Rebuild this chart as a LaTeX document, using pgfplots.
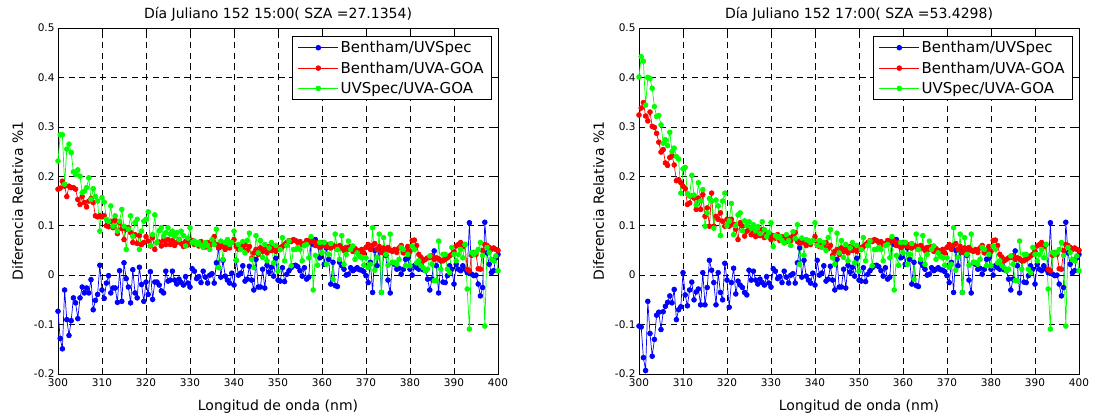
\documentclass[border=0pt]{standalone}
\usepackage{fontspec}
\setmainfont{DejaVu Sans}
\usepackage{pgfplots}
\usepackage{pgfplotstable}
\pgfplotsset{compat=1.18}

\pgfplotstableread{
x b r g
300.0 -0.073 0.174 0.231
300.5 -0.128 0.176 0.284
301.0 -0.149 0.190 0.284
301.5 -0.030 0.180 0.184
302.0 -0.090 0.159 0.255
302.5 -0.122 0.180 0.265
303.0 -0.092 0.177 0.248
303.5 -0.046 0.177 0.209
304.0 -0.056 0.174 0.204
304.5 -0.088 0.153 0.213
305.0 -0.046 0.143 0.200
305.5 -0.024 0.159 0.167
306.0 -0.036 0.147 0.170
306.5 -0.026 0.138 0.177
307.0 -0.036 0.150 0.197
307.5 -0.009 0.155 0.153
308.0 -0.070 0.147 0.175
308.5 -0.051 0.120 0.159
309.0 -0.039 0.118 0.150
309.5 0.020 0.120 0.089
310.0 -0.030 0.118 0.157
310.5 -0.047 0.120 0.148
311.0 -0.016 0.100 0.113
311.5 -0.001 0.098 0.109
312.0 -0.036 0.109 0.140
312.5 -0.026 0.096 0.099
313.0 -0.026 0.111 0.120
313.5 -0.055 0.084 0.089
314.0 0.009 0.106 0.109
314.5 -0.053 0.094 0.133
315.0 0.025 0.072 0.099
315.5 -0.007 0.093 0.052
316.0 -0.024 0.096 0.093
316.5 -0.056 0.086 0.120
317.0 0.011 0.066 0.079
317.5 -0.036 0.082 0.106
318.0 -0.046 0.064 0.113
318.5 0.016 0.080 0.052
319.0 -0.019 0.062 0.089
319.5 -0.053 0.066 0.109
320.0 -0.014 0.078 0.113
320.5 -0.039 0.069 0.128
321.0 0.007 0.059 0.060
321.5 -0.049 0.076 0.082
322.0 -0.014 0.052 0.122
322.5 -0.014 0.066 0.066
323.0 -0.020 0.067 0.090
323.5 -0.032 0.059 0.096
324.0 -0.036 0.071 0.079
324.5 0.008 0.062 0.086
325.0 -0.012 0.072 0.096
325.5 -0.010 0.062 0.083
326.0 0.008 0.070 0.089
326.5 -0.010 0.060 0.079
327.0 -0.018 0.066 0.086
327.5 -0.008 0.072 0.072
328.0 -0.015 0.064 0.089
328.5 -0.020 0.058 0.080
329.0 -0.003 0.068 0.059
329.5 -0.016 0.061 0.075
330.0 -0.024 0.066 0.096
330.5 0.013 0.070 0.066
331.0 0.008 0.062 0.069
331.5 -0.007 0.065 0.062
332.0 -0.003 0.059 0.066
332.5 -0.015 0.068 0.060
333.0 0.008 0.063 0.056
333.5 -0.004 0.057 0.066
334.0 -0.016 0.066 0.060
334.5 0.000 0.060 0.052
335.0 0.003 0.070 0.072
335.5 -0.016 0.078 0.062
336.0 0.025 0.062 0.093
336.5 0.055 0.056 0.015
337.0 -0.004 0.064 0.069
337.5 0.030 0.058 0.032
338.0 -0.002 0.052 0.066
338.5 -0.010 0.061 0.072
339.0 -0.016 0.055 0.062
339.5 0.004 0.066 0.066
340.0 -0.020 0.072 0.089
340.5 0.030 0.058 0.030
341.0 0.000 0.053 0.062
341.5 0.004 0.060 0.052
342.0 0.019 0.056 0.068
342.5 -0.012 0.062 0.045
343.0 -0.008 0.050 0.070
343.5 0.018 0.058 0.085
344.0 -0.010 0.034 0.032
344.5 -0.030 0.045 0.015
345.0 0.032 0.052 0.080
345.5 -0.024 0.042 0.045
346.0 -0.024 0.055 0.070
346.5 0.012 0.048 0.036
347.0 -0.026 0.052 0.062
347.5 0.020 0.045 0.029
348.0 0.006 0.058 0.055
348.5 0.016 0.050 0.066
349.0 -0.002 0.055 0.025
349.5 0.034 0.048 0.060
350.0 -0.010 0.056 0.008
350.5 -0.012 0.052 0.052
351.0 0.015 0.058 0.076
351.5 -0.013 0.062 0.029
352.0 0.002 0.066 0.060
352.5 0.009 0.070 0.069
353.0 0.015 0.068 0.019
353.5 0.019 0.072 0.052
354.0 0.020 0.070 0.052
354.5 0.017 0.066 0.056
355.0 0.009 0.068 0.052
355.5 -0.002 0.062 0.029
356.0 0.015 0.064 0.060
356.5 -0.008 0.070 0.062
357.0 -0.004 0.066 0.035
357.5 0.068 0.074 0.078
358.0 0.062 0.068 -0.030
358.5 0.072 0.060 0.040
359.0 0.060 0.066 0.020
359.5 0.035 0.056 0.066
360.0 0.066 0.060 0.045
360.5 0.022 0.066 0.066
361.0 0.055 0.058 0.022
361.5 0.032 0.062 0.042
362.0 -0.018 0.055 0.064
362.5 0.026 0.060 -0.008
363.0 -0.021 0.058 0.083
363.5 -0.023 0.052 0.052
364.0 0.026 0.060 0.032
364.5 0.019 0.055 0.080
365.0 0.012 0.050 0.022
365.5 0.000 0.056 0.042
366.0 0.002 0.052 0.069
366.5 0.015 0.058 0.052
367.0 0.009 0.048 0.059
367.5 0.012 0.054 0.032
368.0 0.015 0.050 0.045
368.5 0.011 0.046 0.038
369.0 0.010 0.052 0.035
369.5 0.007 0.045 0.020
370.0 -0.001 0.056 0.035
370.5 -0.015 0.062 0.015
371.0 0.026 0.052 0.022
371.5 -0.035 0.060 0.096
372.0 0.050 0.064 0.010
372.5 0.019 0.052 0.036
373.0 0.055 0.058 0.083
373.5 -0.035 0.046 -0.035
374.0 0.045 0.055 0.076
374.5 0.040 0.050 0.042
375.0 -0.010 0.056 0.020
375.5 -0.036 0.050 0.083
376.0 0.025 0.048 0.026
376.5 0.022 0.052 0.026
377.0 0.012 0.046 0.022
377.5 0.014 0.055 0.032
378.0 0.002 0.060 0.056
378.5 0.012 0.045 0.052
379.0 0.032 0.052 0.019
379.5 0.034 0.058 0.042
380.0 0.012 0.048 0.019
380.5 0.000 0.070 0.059
381.0 0.019 0.071 0.052
381.5 0.015 0.060 0.025
382.0 0.012 0.042 0.029
382.5 0.022 0.036 0.019
383.0 0.011 0.029 0.015
383.5 0.009 0.032 0.009
384.0 -0.008 0.035 0.012
384.5 -0.030 0.036 0.039
385.0 -0.008 0.039 0.022
385.5 0.049 0.032 -0.011
386.0 0.019 0.035 -0.011
386.5 -0.036 0.033 0.069
387.0 0.029 0.030 0.012
387.5 -0.014 0.029 0.042
388.0 -0.015 0.032 0.042
388.5 -0.001 0.035 0.012
389.0 0.019 0.039 0.005
389.5 0.012 0.042 0.056
390.0 -0.018 0.048 0.042
390.5 0.022 0.059 0.029
391.0 0.012 0.062 0.042
391.5 0.009 0.066 0.052
392.0 0.019 0.058 0.035
392.5 0.012 0.062 0.062
393.0 0.005 0.012 -0.028
393.5 0.106 0.009 -0.109
394.0 0.002 0.040 0.046
394.5 -0.001 0.046 0.042
395.0 0.000 0.042 0.046
395.5 -0.018 0.013 0.052
396.0 -0.042 0.012 0.066
396.5 -0.025 0.050 0.040
397.0 0.107 0.062 -0.103
397.5 0.045 0.060 0.056
398.0 0.022 0.056 0.046
398.5 0.005 0.052 0.032
399.0 0.009 0.055 0.029
399.5 0.035 0.052 0.039
400.0 0.042 0.050 0.009
}\dataL

\pgfplotstableread{
x b r g
300.0 -0.103 0.324 0.401
300.5 -0.105 0.338 0.442
301.0 -0.167 0.349 0.433
301.5 -0.193 0.322 0.344
302.0 -0.053 0.312 0.400
302.5 -0.118 0.330 0.398
303.0 -0.164 0.301 0.378
303.5 -0.130 0.299 0.341
304.0 -0.081 0.287 0.321
304.5 -0.075 0.269 0.323
305.0 -0.110 0.249 0.304
305.5 -0.074 0.254 0.267
306.0 -0.063 0.227 0.274
306.5 -0.055 0.222 0.262
307.0 -0.042 0.238 0.289
307.5 -0.056 0.242 0.250
308.0 -0.029 0.223 0.257
308.5 -0.090 0.191 0.240
309.0 -0.070 0.193 0.235
309.5 -0.064 0.187 0.166
310.0 0.005 0.180 0.215
310.5 -0.040 0.175 0.218
311.0 -0.062 0.143 0.165
311.5 -0.030 0.146 0.160
312.0 -0.014 0.160 0.202
312.5 -0.050 0.156 0.162
313.0 -0.034 0.133 0.142
313.5 -0.028 0.156 0.187
314.0 -0.060 0.133 0.150
314.5 0.005 0.163 0.173
315.0 -0.060 0.119 0.099
315.5 -0.025 0.136 0.126
316.0 0.030 0.099 0.155
316.5 0.010 0.166 0.150
317.0 -0.015 0.099 0.095
317.5 -0.060 0.119 0.152
318.0 0.005 0.113 0.140
318.5 -0.035 0.126 0.080
319.0 -0.050 0.109 0.150
319.5 0.024 0.099 0.166
320.0 -0.010 0.113 0.100
320.5 -0.065 0.099 0.110
321.0 -0.015 0.113 0.145
321.5 0.014 0.103 0.082
322.0 -0.038 0.093 0.100
322.5 -0.012 0.072 0.122
323.0 -0.020 0.106 0.126
323.5 -0.025 0.099 0.090
324.0 -0.035 0.079 0.110
324.5 -0.040 0.089 0.100
325.0 0.010 0.093 0.108
325.5 -0.010 0.082 0.095
326.0 0.008 0.090 0.102
326.5 -0.010 0.078 0.090
327.0 -0.018 0.086 0.098
327.5 -0.008 0.080 0.084
328.0 -0.015 0.092 0.108
328.5 -0.020 0.076 0.092
329.0 -0.003 0.085 0.078
329.5 -0.016 0.078 0.086
330.0 -0.024 0.072 0.106
330.5 0.013 0.080 0.058
331.0 0.008 0.075 0.080
331.5 -0.007 0.082 0.076
332.0 -0.003 0.070 0.078
332.5 -0.015 0.078 0.070
333.0 0.008 0.073 0.065
333.5 -0.004 0.068 0.082
334.0 -0.016 0.076 0.070
334.5 0.000 0.070 0.060
335.0 0.003 0.080 0.088
335.5 -0.016 0.086 0.074
336.0 0.025 0.068 0.102
336.5 0.055 0.064 0.022
337.0 -0.004 0.072 0.075
337.5 0.030 0.066 0.040
338.0 -0.002 0.060 0.072
338.5 -0.010 0.068 0.070
339.0 -0.016 0.062 0.066
339.5 0.004 0.070 0.070
340.0 -0.020 0.078 0.106
340.5 0.030 0.062 0.060
341.0 0.000 0.058 0.070
341.5 0.004 0.064 0.056
342.0 0.019 0.060 0.066
342.5 -0.012 0.066 0.050
343.0 -0.008 0.054 0.076
343.5 0.018 0.060 0.092
344.0 -0.010 0.040 0.035
344.5 -0.030 0.048 0.022
345.0 0.032 0.052 0.085
345.5 -0.024 0.042 0.045
346.0 -0.024 0.055 0.070
346.5 0.012 0.048 0.036
347.0 -0.026 0.052 0.062
347.5 0.020 0.045 0.029
348.0 0.006 0.058 0.055
348.5 0.016 0.050 0.066
349.0 -0.002 0.055 0.025
349.5 0.034 0.048 0.060
350.0 -0.010 0.056 0.008
350.5 -0.012 0.052 0.052
351.0 0.015 0.058 0.076
351.5 -0.013 0.062 0.029
352.0 0.002 0.066 0.060
352.5 0.009 0.070 0.069
353.0 0.015 0.068 0.019
353.5 0.019 0.072 0.052
354.0 0.020 0.070 0.052
354.5 0.017 0.066 0.056
355.0 0.009 0.068 0.052
355.5 -0.002 0.062 0.029
356.0 0.015 0.064 0.060
356.5 -0.008 0.070 0.062
357.0 -0.004 0.066 0.035
357.5 0.068 0.074 0.078
358.0 0.062 0.068 -0.030
358.5 0.072 0.060 0.040
359.0 0.060 0.066 0.020
359.5 0.035 0.056 0.066
360.0 0.066 0.060 0.045
360.5 0.022 0.066 0.066
361.0 0.055 0.058 0.022
361.5 0.032 0.062 0.042
362.0 -0.018 0.055 0.064
362.5 0.026 0.060 -0.008
363.0 -0.021 0.058 0.083
363.5 -0.023 0.052 0.052
364.0 0.026 0.060 0.032
364.5 0.019 0.055 0.080
365.0 0.012 0.050 0.022
365.5 0.000 0.056 0.042
366.0 0.002 0.052 0.069
366.5 0.015 0.058 0.052
367.0 0.009 0.048 0.059
367.5 0.012 0.054 0.032
368.0 0.015 0.050 0.045
368.5 0.011 0.046 0.038
369.0 0.010 0.052 0.035
369.5 0.007 0.045 0.020
370.0 -0.001 0.056 0.035
370.5 -0.015 0.062 0.015
371.0 0.026 0.052 0.022
371.5 -0.035 0.060 0.096
372.0 0.050 0.064 0.010
372.5 0.019 0.052 0.036
373.0 0.055 0.058 0.083
373.5 -0.035 0.046 -0.035
374.0 0.045 0.055 0.076
374.5 0.040 0.050 0.042
375.0 -0.010 0.056 0.020
375.5 -0.036 0.050 0.083
376.0 0.025 0.048 0.026
376.5 0.022 0.052 0.026
377.0 0.012 0.046 0.022
377.5 0.014 0.055 0.032
378.0 0.002 0.060 0.056
378.5 0.012 0.045 0.052
379.0 0.032 0.052 0.019
379.5 0.034 0.058 0.042
380.0 0.012 0.048 0.019
380.5 0.000 0.070 0.059
381.0 0.019 0.071 0.052
381.5 0.015 0.060 0.025
382.0 0.012 0.042 0.029
382.5 0.022 0.036 0.019
383.0 0.011 0.029 0.015
383.5 0.009 0.032 0.009
384.0 -0.008 0.035 0.012
384.5 -0.030 0.036 0.039
385.0 -0.008 0.039 0.022
385.5 0.049 0.032 -0.011
386.0 0.019 0.035 -0.011
386.5 -0.036 0.033 0.069
387.0 0.029 0.030 0.012
387.5 -0.014 0.029 0.042
388.0 -0.015 0.032 0.042
388.5 -0.001 0.035 0.012
389.0 0.019 0.039 0.005
389.5 0.012 0.042 0.056
390.0 -0.018 0.048 0.042
390.5 0.022 0.059 0.029
391.0 0.012 0.062 0.042
391.5 0.009 0.066 0.052
392.0 0.019 0.058 0.035
392.5 0.012 0.062 0.062
393.0 0.005 0.012 -0.028
393.5 0.106 0.009 -0.109
394.0 0.002 0.040 0.046
394.5 -0.001 0.046 0.042
395.0 0.000 0.042 0.046
395.5 -0.018 0.013 0.052
396.0 -0.042 0.012 0.066
396.5 -0.025 0.050 0.040
397.0 0.107 0.062 -0.103
397.5 0.045 0.060 0.056
398.0 0.022 0.056 0.046
398.5 0.005 0.052 0.032
399.0 0.009 0.055 0.029
399.5 0.035 0.052 0.039
400.0 0.042 0.050 0.009
}\dataR

\pgfplotsset{
  mystyle/.style={
    scale only axis, width=440pt, height=346pt,
    xmin=300, xmax=400, ymin=-0.2, ymax=0.5,
    xtick={300,310,320,330,340,350,360,370,380,390,400},
    ytick={-0.2,-0.1,0,0.1,0.2,0.3,0.4,0.5},
    yticklabels={-0.2,-0.1,0,0.1,0.2,0.3,0.4,0.5},
    grid=major,
    major grid style={black, line width=0.5pt, dash pattern=on 6pt off 4.5pt},
    tick align=inside,
    major tick length=5pt,
    tick style={black, line width=0.5pt},
    axis line style={black, line width=0.6pt},
    ticklabel style={font=\fontsize{10.5}{12}\selectfont},
    xticklabel style={yshift=-1.5pt},
    /pgf/number format/assume math mode=true,
    label style={font=\fontsize{14}{16}\selectfont},
    xlabel={Longitud de onda (nm)},
    ylabel={Diferencia Relativa \%1},
    xlabel style={yshift=-6pt},
    ylabel style={yshift=4pt},
    title style={font=\fontsize{14}{16}\selectfont, yshift=-3pt},
    legend style={at={(0.986,0.977)}, anchor=north east, draw=black,
      line width=0.6pt,
      font=\fontsize{15}{17}\selectfont, cells={anchor=west},
      row sep=3.5pt, inner xsep=6pt, inner ysep=3pt},
    legend image code/.code={\draw[mark repeat=2,mark phase=2] plot coordinates {(0pt,0pt)(20pt,0pt)(40pt,0pt)};},
    every axis plot/.append style={line width=0.7pt, mark=*, mark size=2.4pt},
  }
}

\begin{document}
\begin{tikzpicture}
\useasboundingbox (0,0) rectangle (1093pt,416pt);
\begin{axis}[mystyle, at={(58pt,42pt)}, anchor=south west,
  title={Día Juliano 152 15:00( SZA =27.1354)}]
\addplot[blue] table[x=x,y=b] {\dataL};
\addlegendentry{Bentham/UVSpec}
\addplot[red] table[x=x,y=r] {\dataL};
\addlegendentry{Bentham/UVA-GOA}
\addplot[green] table[x=x,y=g] {\dataL};
\addlegendentry{UVSpec/UVA-GOA}
\end{axis}
\begin{axis}[mystyle, at={(639pt,42pt)}, anchor=south west,
  title={Día Juliano 152 17:00( SZA =53.4298)}]
\addplot[blue] table[x=x,y=b] {\dataR};
\addlegendentry{Bentham/UVSpec}
\addplot[red] table[x=x,y=r] {\dataR};
\addlegendentry{Bentham/UVA-GOA}
\addplot[green] table[x=x,y=g] {\dataR};
\addlegendentry{UVSpec/UVA-GOA}
\end{axis}
\end{tikzpicture}
\end{document}
